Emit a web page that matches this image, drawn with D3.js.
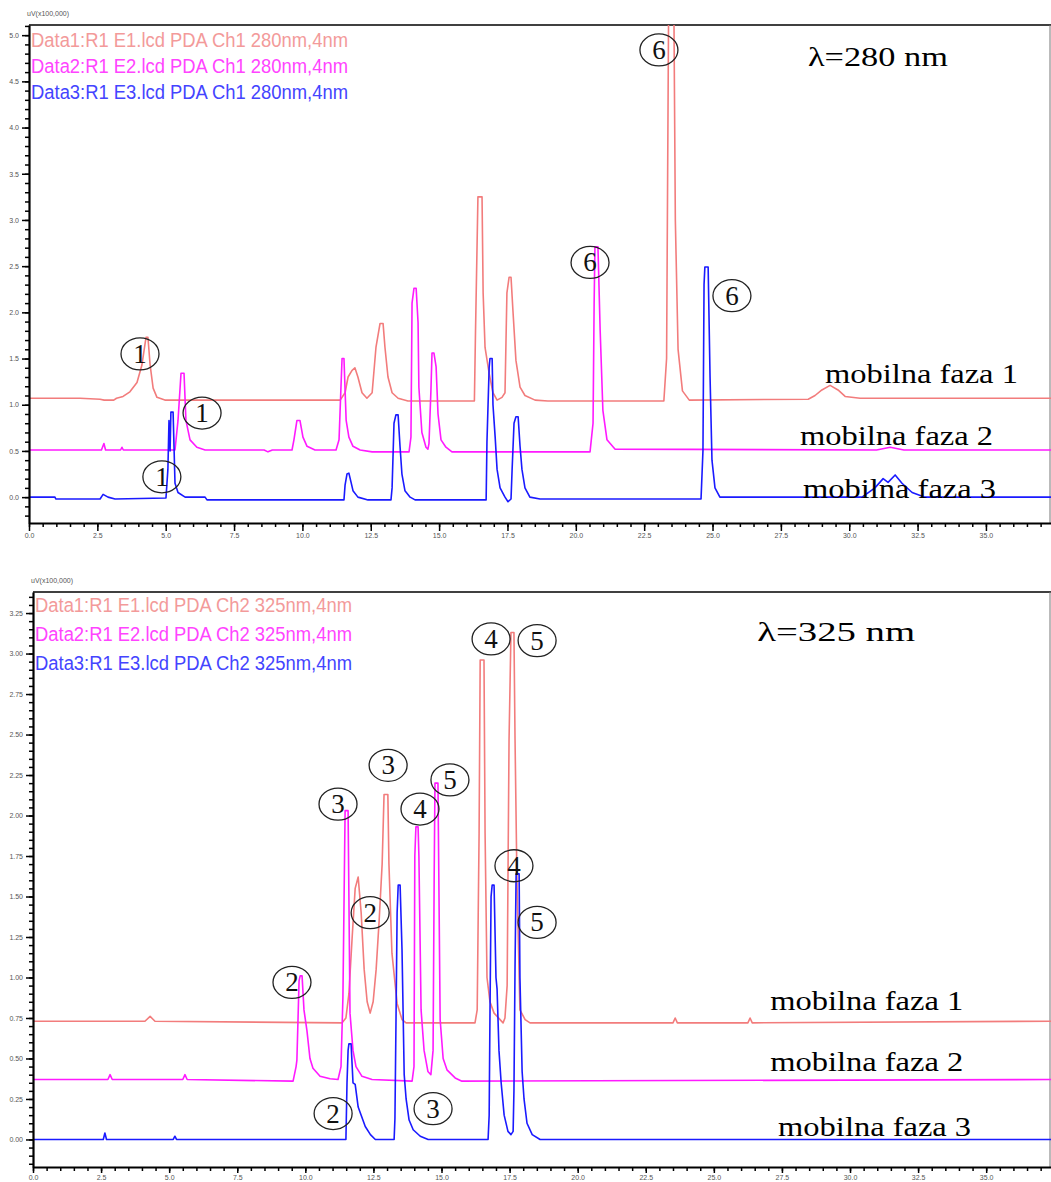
<!DOCTYPE html>
<html>
<head>
<meta charset="utf-8">
<script src="https://cdn.jsdelivr.net/npm/d3@7"></script>
<style>
  body { margin: 0; background: #fff; }
</style>
</head>
<body>
<div id="chart"></div>
<script>
// ---------- data (time in min, signal in uV x100,000) ----------
const xTickLabels = [0, 2.5, 5, 7.5, 10, 12.5, 15, 17.5, 20, 22.5, 25, 27.5, 30, 32.5, 35];
const yTicks280 = [0, 0.5, 1, 1.5, 2, 2.5, 3, 3.5, 4, 4.5, 5];
const yTicks325 = [0, 0.25, 0.5, 0.75, 1, 1.25, 1.5, 1.75, 2, 2.25, 2.5, 2.75, 3, 3.25];

const legend280 = ["Data1:R1 E1.lcd PDA Ch1 280nm,4nm", "Data2:R1 E2.lcd PDA Ch1 280nm,4nm", "Data3:R1 E3.lcd PDA Ch1 280nm,4nm"];
const legend325 = ["Data1:R1 E1.lcd PDA Ch2 325nm,4nm", "Data2:R1 E2.lcd PDA Ch2 325nm,4nm", "Data3:R1 E3.lcd PDA Ch2 325nm,4nm"];

// 280 nm, mobile phase 1 / 2 / 3
const trace280_1 = [[0,1.07],[1.87,1.07],[2.6,1.06],[2.75,1.05],[3.1,1.05],[3.2,1.07],[3.44,1.09],[3.69,1.14],[3.95,1.24],[4.13,1.43],[4.24,1.65],[4.28,1.73],[4.35,1.73],[4.43,1.43],[4.54,1.18],[4.68,1.08],[4.97,1.05],[11.38,1.05],[11.56,1.13],[11.67,1.30],[11.81,1.37],[11.92,1.40],[12.03,1.30],[12.18,1.13],[12.36,1.07],[12.55,1.13],[12.69,1.62],[12.84,1.88],[12.95,1.88],[13.02,1.62],[13.13,1.30],[13.28,1.13],[13.50,1.07],[13.86,1.04],[16.29,1.04],[16.33,1.77],[16.42,3.25],[16.57,3.25],[16.61,2.21],[16.68,1.62],[16.83,1.34],[16.97,1.13],[17.12,1.05],[17.30,1.08],[17.41,1.13],[17.48,2.21],[17.56,2.38],[17.63,2.38],[17.70,2.02],[17.81,1.48],[17.96,1.19],[18.14,1.10],[18.51,1.05],[18.98,1.04],[23.22,1.04],[23.32,1.5],[23.40,5.6],[23.58,5.6],[23.64,3.0],[23.74,1.6],[23.90,1.15],[24.15,1.05],[28.5,1.06],[28.75,1.10],[29.0,1.16],[29.3,1.21],[29.59,1.16],[29.85,1.09],[30.4,1.07],[37.38,1.07]];
const trace280_2 = [[0,0.51],[2.65,0.51],[2.74,0.58],[2.8,0.51],[3.35,0.51],[3.40,0.54],[3.45,0.51],[5.34,0.51],[5.45,0.83],[5.56,1.34],[5.67,1.34],[5.74,0.83],[5.89,0.62],[6.14,0.54],[6.44,0.51],[8.6,0.51],[8.74,0.49],[8.9,0.51],[9.62,0.51],[9.69,0.62],[9.80,0.83],[9.91,0.83],[10.02,0.65],[10.17,0.55],[10.46,0.51],[11.23,0.51],[11.34,0.62],[11.41,1.19],[11.45,1.50],[11.52,1.50],[11.60,0.83],[11.70,0.65],[11.85,0.55],[12.11,0.51],[12.55,0.49],[13.90,0.49],[13.97,0.65],[14.01,2.10],[14.08,2.26],[14.16,2.26],[14.23,1.89],[14.26,1.19],[14.37,0.70],[14.52,0.54],[14.59,0.52],[14.63,0.58],[14.70,1.15],[14.74,1.56],[14.81,1.56],[14.89,1.41],[14.96,0.90],[15.07,0.62],[15.25,0.54],[15.47,0.49],[20.52,0.49],[20.63,0.8],[20.67,2.1],[20.70,2.71],[20.81,2.71],[20.89,1.81],[20.99,0.94],[21.14,0.62],[21.43,0.52],[31.0,0.51],[31.5,0.54],[32.0,0.51],[37.38,0.51]];
const trace280_3 = [[0,0],[0.95,0],[0.98,-0.02],[2.6,-0.02],[2.71,0.03],[2.89,0],[3.15,-0.02],[5.01,-0.01],[5.08,0.3],[5.12,0.83],[5.16,0.5],[5.19,0.92],[5.27,0.92],[5.34,0.15],[5.45,0.05],[5.71,0],[6.44,0],[6.51,-0.03],[11.52,-0.03],[11.56,0.13],[11.63,0.25],[11.70,0.26],[11.78,0.16],[11.85,0.07],[12.03,0],[12.40,-0.03],[13.24,-0.03],[13.28,0.10],[13.35,0.80],[13.42,0.89],[13.50,0.89],[13.57,0.55],[13.64,0.25],[13.75,0.07],[13.94,0],[14.12,-0.03],[16.72,-0.03],[16.75,0.6],[16.83,1.40],[16.86,1.50],[16.94,1.50],[16.97,1.0],[17.05,0.65],[17.12,0.3],[17.23,0.1],[17.41,0],[17.52,-0.05],[17.63,-0.02],[17.67,0.3],[17.74,0.80],[17.81,0.87],[17.89,0.87],[17.96,0.55],[18.03,0.3],[18.14,0.1],[18.32,0],[18.69,-0.02],[24.58,-0.02],[24.65,0.5],[24.69,2.3],[24.72,2.49],[24.84,2.49],[24.91,1.3],[24.98,0.4],[25.09,0.1],[25.27,0],[30.47,0],[30.94,0.1],[31.24,0.20],[31.42,0.16],[31.68,0.24],[31.93,0.15],[32.3,0.05],[32.77,0],[37.38,0]];

// 325 nm, mobile phase 1 / 2 / 3
const trace325_1 = [[0,0.73],[4.11,0.73],[4.30,0.76],[4.48,0.73],[11.35,0.72],[11.49,0.75],[11.60,0.90],[11.72,1.25],[11.83,1.55],[11.94,1.62],[12.05,1.40],[12.16,1.05],[12.27,0.85],[12.38,0.78],[12.49,0.85],[12.60,1.05],[12.71,1.35],[12.82,1.70],[12.89,2.13],[13.03,2.13],[13.07,1.70],[13.18,1.15],[13.37,0.84],[13.55,0.74],[13.70,0.72],[16.23,0.72],[16.31,0.80],[16.38,1.89],[16.42,2.96],[16.56,2.96],[16.60,1.89],[16.67,1.0],[16.78,0.85],[16.93,0.78],[17.15,0.74],[17.26,0.72],[17.33,0.75],[17.41,0.95],[17.48,2.47],[17.52,2.84],[17.55,3.13],[17.66,3.13],[17.70,2.47],[17.77,1.6],[17.88,0.80],[18.07,0.74],[18.25,0.72],[23.5,0.72],[23.58,0.75],[23.66,0.72],[26.25,0.72],[26.33,0.75],[26.41,0.72],[37.38,0.73]];
const trace325_2 = [[0,0.37],[2.75,0.37],[2.83,0.40],[2.91,0.37],[5.5,0.37],[5.58,0.40],[5.66,0.37],[9.55,0.36],[9.66,0.45],[9.69,0.49],[9.77,0.98],[9.81,1.01],[9.88,1.01],[9.95,0.80],[10.06,0.67],[10.17,0.50],[10.28,0.44],[10.54,0.39],[10.91,0.375],[11.20,0.37],[11.31,0.45],[11.38,0.88],[11.46,2.03],[11.57,2.03],[11.64,0.78],[11.75,0.55],[11.86,0.45],[12.08,0.39],[12.45,0.37],[13.92,0.36],[13.99,0.45],[14.02,1.75],[14.06,1.93],[14.14,1.93],[14.17,1.75],[14.25,0.80],[14.36,0.55],[14.50,0.42],[14.61,0.40],[14.69,0.55],[14.73,1.60],[14.76,2.20],[14.87,2.20],[14.95,0.74],[15.06,0.50],[15.20,0.43],[15.50,0.38],[15.75,0.36],[37.38,0.37]];
const trace325_3 = [[0,0],[2.58,0],[2.64,0.04],[2.70,0],[5.15,0],[5.21,0.02],[5.27,0],[11.49,0],[11.53,0.35],[11.57,0.55],[11.60,0.59],[11.68,0.59],[11.75,0.35],[11.83,0.34],[11.94,0.20],[12.05,0.15],[12.20,0.08],[12.39,0.03],[12.57,0],[13.26,0],[13.29,0.13],[13.33,0.75],[13.37,1.40],[13.41,1.57],[13.48,1.57],[13.55,1.17],[13.63,0.40],[13.70,0.25],[13.81,0.12],[13.96,0.06],[14.22,0.02],[14.51,0],[16.71,0],[16.75,0.15],[16.78,0.78],[16.82,1.50],[16.86,1.57],[16.93,1.57],[17.0,1.0],[17.04,0.93],[17.11,0.55],[17.19,0.35],[17.30,0.15],[17.44,0.05],[17.55,0.03],[17.63,0.05],[17.66,0.3],[17.70,1.07],[17.74,1.64],[17.85,1.64],[17.88,1.0],[17.96,0.42],[18.03,0.25],[18.14,0.10],[18.33,0.03],[18.62,0],[37.38,0]];

// circled peak numbers: [label, time, signal]
const peaks280 = [["1",4.06,1.55],["1",6.33,0.91],["1",4.86,0.22],["6",23.04,4.84],["6",20.52,2.54],["6",25.71,2.18]];
const peaks325 = [["2",9.51,0.97],["2",12.38,1.40],["2",11.02,0.16],["3",11.20,2.07],["3",13.04,2.31],["3",14.69,0.19],
                  ["4",16.82,3.09],["4",14.21,2.04],["4",17.66,1.69],["5",18.51,3.08],["5",15.31,2.22],["5",18.51,1.34]];

// text notes: [text, time, signal]
const notes280 = [["λ=280 nm",28.49,4.67],["mobilna faza 1",29.11,1.23],["mobilna faza 2",28.2,0.56],["mobilna faza 3",28.31,-0.01]];
const notes325 = [["λ=325 nm",26.59,3.08],["mobilna faza 1",27.07,0.80],["mobilna faza 2",27.07,0.42],["mobilna faza 3",27.36,0.02]];

// ---------- drawing ----------
const colors = ["#f27c7c", "#ff1aff", "#1a1aff"];
const legendColors = ["#f39a9a", "#ff44ff", "#4444ff"];

const svg = d3.select("#chart").append("svg")
    .attr("width", 1051)
    .attr("height", 1182)
    .style("font-family", "'Liberation Sans', Arial, sans-serif");

const drawPanel = (cfg) => {
    const x = d3.scaleLinear().domain([0, 37.38]).range([cfg.left, cfg.right]);
    const y = d3.scaleLinear().domain(cfg.yDomain).range([cfg.bottom, cfg.top]);
    const g = svg.append("g");

    g.append("clipPath").attr("id", cfg.id)
        .append("rect")
        .attr("x", cfg.left).attr("y", cfg.top)
        .attr("width", cfg.right - cfg.left).attr("height", cfg.bottom - cfg.top);

    // frame top / right
    g.append("line").attr("x1", cfg.left).attr("x2", cfg.right)
        .attr("y1", cfg.top).attr("y2", cfg.top)
        .attr("stroke", "#000").attr("stroke-width", 1.5);
    g.append("line").attr("x1", cfg.right - 1).attr("x2", cfg.right - 1)
        .attr("y1", cfg.top).attr("y2", cfg.bottom)
        .attr("stroke", "#777").attr("stroke-width", 1);

    // traces
    const line = d3.line().x(d => x(d[0])).y(d => y(d[1]));
    g.append("g").attr("clip-path", `url(#${cfg.id})`)
        .selectAll("path")
        .data(cfg.traces)
        .join("path")
        .attr("d", line)
        .attr("fill", "none")
        .attr("stroke", (d, i) => colors[i])
        .attr("stroke-width", 1.6)
        .attr("stroke-linejoin", "round");

    // minor ticks
    const xMinor = d3.range(0, 37.4, 0.5);
    const yMinor = d3.range(Math.ceil(cfg.yDomain[0] / cfg.yMinor) * cfg.yMinor, cfg.yDomain[1], cfg.yMinor);

    g.append("g").attr("transform", `translate(0,${cfg.bottom})`)
        .call(d3.axisBottom(x).tickValues(xMinor).tickSize(4).tickFormat("").tickSizeOuter(0))
        .call(a => a.select(".domain").remove());
    g.append("g").attr("transform", `translate(${cfg.left},0)`)
        .call(d3.axisLeft(y).tickValues(yMinor).tickSize(4).tickFormat("").tickSizeOuter(0))
        .call(a => a.select(".domain").remove());

    // major ticks + labels
    const xAxis = g.append("g").attr("transform", `translate(0,${cfg.bottom})`)
        .call(d3.axisBottom(x).tickValues(xTickLabels).tickSize(cfg.xTickSize).tickSizeOuter(0)
            .tickPadding(2).tickFormat(d3.format(".1f")));
    const yAxis = g.append("g").attr("transform", `translate(${cfg.left},0)`)
        .call(d3.axisLeft(y).tickValues(cfg.yTicks).tickSize(7).tickSizeOuter(0)
            .tickFormat(d3.format(cfg.yFmt)));

    [xAxis, yAxis].forEach(a => {
        a.select(".domain").attr("stroke-width", 2.2);
        a.selectAll(".tick text").attr("font-size", 7).attr("fill", "#555")
            .style("font-family", "'Liberation Sans', Arial, sans-serif");
    });
    xAxis.selectAll(".tick text").attr("dy", "0.75em");
    g.selectAll(".tick line").attr("stroke-width", 1.5);

    // unit label
    g.append("text").attr("x", cfg.left - 2).attr("y", cfg.top - 9)
        .attr("font-size", 7).attr("fill", "#555").text("uV(x100,000)");

    // legend
    g.selectAll(".legend")
        .data(cfg.legend)
        .join("text")
        .attr("x", cfg.left + 2)
        .attr("y", (d, i) => cfg.legendY + i * cfg.legendStep)
        .attr("font-size", 20)
        .attr("textLength", 317)
        .attr("lengthAdjust", "spacingAndGlyphs")
        .attr("fill", (d, i) => legendColors[i])
        .text(d => d);

    // notes
    g.selectAll(".note")
        .data(cfg.notes)
        .join("text")
        .attr("x", d => x(d[1]))
        .attr("y", d => y(d[2]))
        .attr("font-size", 27)
        .attr("textLength", (d, i) => i === 0 ? cfg.lambdaW : 193)
        .attr("lengthAdjust", "spacingAndGlyphs")
        .style("font-family", "'Liberation Serif', 'Times New Roman', serif")
        .attr("fill", "#000")
        .text(d => d[0]);

    // circled peak numbers
    const circ = g.selectAll(".peak")
        .data(cfg.peaks)
        .join("g")
        .attr("transform", d => `translate(${x(d[1])},${y(d[2])})`);
    circ.append("ellipse")
        .attr("rx", 19).attr("ry", 16)
        .attr("fill", "none")
        .attr("stroke", "#222")
        .attr("stroke-width", 1.3);
    circ.append("text")
        .attr("text-anchor", "middle")
        .attr("y", 9)
        .attr("font-size", 27)
        .style("font-family", "'Liberation Serif', 'Times New Roman', serif")
        .attr("fill", "#111")
        .text(d => d[0]);
};

drawPanel({
    id: "clip280", left: 29, right: 1051, top: 25, bottom: 523, xTickSize: 8,
    yDomain: [-0.28, 5.11], yTicks: yTicks280, yMinor: 0.1, yFmt: ".1f",
    traces: [trace280_1, trace280_2, trace280_3],
    legend: legend280, legendY: 47, legendStep: 26,
    notes: notes280, lambdaW: 140, peaks: peaks280
});

drawPanel({
    id: "clip325", left: 33, right: 1051, top: 592, bottom: 1167, xTickSize: 6,
    yDomain: [-0.17, 3.38], yTicks: yTicks325, yMinor: 0.05, yFmt: ".2f",
    traces: [trace325_1, trace325_2, trace325_3],
    legend: legend325, legendY: 612, legendStep: 29,
    notes: notes325, lambdaW: 158, peaks: peaks325
});
</script>
</body>
</html>
